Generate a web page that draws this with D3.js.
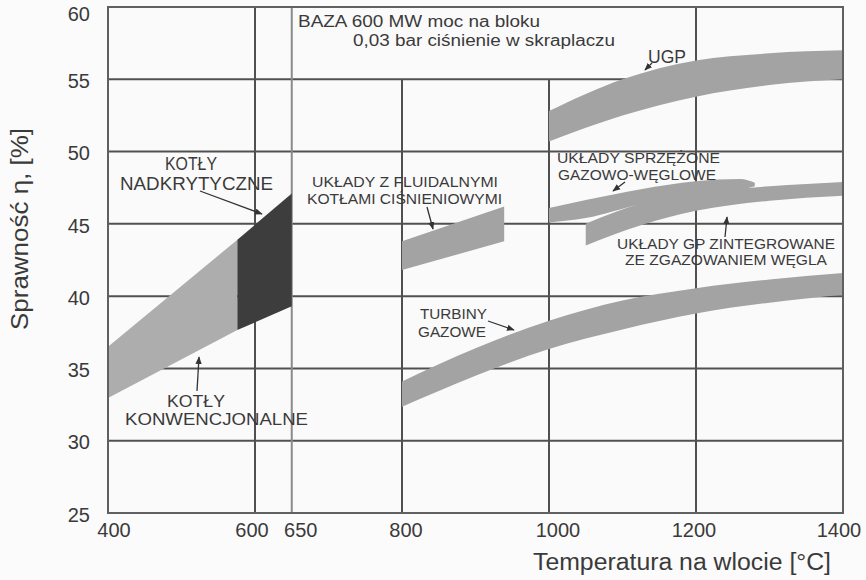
<!DOCTYPE html>
<html><head><meta charset="utf-8">
<script src="https://cdn.jsdelivr.net/npm/d3@7"></script>
<style>
body{margin:0;background:#fbfbfb;}
text{font-family:"Liberation Sans",Arial,sans-serif;}
</style></head>
<body><svg id="c" width="866" height="580"></svg>
<script>
// ---- data ----
const xTicks = [400, 600, 650, 800, 1000, 1200, 1400];
const yTicks = [25, 30, 35, 40, 45, 50, 55, 60];

const konwT = [400, 576], konwTop = [36.5, 43.9], konwBot = [32.95, 37.65];
const nadkT = [576, 650], nadkTop = [43.9, 47.1], nadkBot = [37.65, 39.3];
const fluidT = [800, 939], fluidTop = [43.8, 46.2], fluidBot = [41.8, 43.8];
const ugpT = [1000, 1100, 1200, 1300, 1400], ugpTop = [52.8, 55.0, 56.3, 56.8, 57.0], ugpBot = [50.7, 52.5, 53.8, 54.6, 55.0];
const sprzT = [1000, 1050, 1125, 1200, 1260, 1280], sprzTop = [46.1, 46.65, 47.4, 47.95, 48.1, 47.85], sprzBot = [45.1, 45.4, 46.35, 46.95, 47.35, 47.6];
const zgazT = [1050, 1125, 1200, 1300, 1400], zgazTop = [45.0, 46.4, 47.1, 47.6, 47.9], zgazBot = [43.5, 44.9, 45.9, 46.6, 46.95];
const turbT = [800, 900, 1000, 1100, 1200, 1300, 1400], turbTop = [34.1, 36.4, 38.3, 39.7, 40.55, 41.15, 41.6], turbBot = [32.35, 34.5, 36.35, 37.7, 38.8, 39.55, 40.1];

const baseNote = ["BAZA  600 MW moc na bloku", "0,03 bar ciśnienie w skraplaczu"];
const lblNadk = ["KOTŁY", "NADKRYTYCZNE"];
const lblKonw = ["KOTŁY", "KONWENCJONALNE"];
const lblFluid = ["UKŁADY Z FLUIDALNYMI", "KOTŁAMI CIŚNIENIOWYMI"];
const lblSprz = ["UKŁADY SPRZĘŻONE", "GAZOWO-WĘGLOWE"];
const lblZgaz = ["UKŁADY GP ZINTEGROWANE", "ZE ZGAZOWANIEM WĘGLA"];
const lblUgp = ["UGP"];
const lblTurb = ["TURBINY", "GAZOWE"];
const xTitle = "Temperatura na wlocie [°C]";
const yTitle = "Sprawność η, [%]";

// ---- drawing ----
const svg = d3.select("#c");
const x = d3.scaleLinear().domain([400, 1400]).range([108, 843]);
const y = d3.scaleLinear().domain([25, 60]).range([513, 7]);
const TXT = "#3a3a3a";

svg.append("defs").append("marker").attr("id", "ah").attr("viewBox", "0 0 10 10")
  .attr("refX", 9).attr("refY", 5).attr("markerWidth", 6).attr("markerHeight", 6)
  .attr("orient", "auto").append("path").attr("d", "M0,1L10,5L0,9z").attr("fill", "#333");

svg.append("rect").attr("x", x(400)).attr("y", y(60)).attr("width", x(1400) - x(400))
  .attr("height", y(25) - y(60)).attr("fill", "#fafafa");

const grid = svg.append("g");
grid.selectAll("line.h").data(yTicks.slice(1, -1)).join("line")
  .attr("x1", x(400)).attr("x2", x(1400)).attr("y1", d => y(d)).attr("y2", d => y(d))
  .attr("stroke", "#505050").attr("stroke-width", 2);
grid.selectAll("line.v").data(xTicks.slice(1, -1)).join("line")
  .attr("x1", d => x(d)).attr("x2", d => x(d))
  .attr("y1", d => (d === 800 || d === 1000) ? y(55) : y(60)).attr("y2", y(25))
  .attr("stroke", d => d === 650 ? "#8a8a8a" : "#505050").attr("stroke-width", 2);

function band(T, top, bot, fill, curve) {
  const pts = T.map((t, i) => ({t, a: top[i], b: bot[i]}));
  const area = d3.area().x(d => x(d.t)).y0(d => y(d.b)).y1(d => y(d.a)).curve(curve || d3.curveLinear);
  svg.append("path").datum(pts).attr("d", area).attr("fill", fill);
}
band(konwT, konwTop, konwBot, "#adadad");
band(nadkT, nadkTop, nadkBot, "#3d3d3d");
band(fluidT, fluidTop, fluidBot, "#a3a3a3");
band(ugpT, ugpTop, ugpBot, "#a3a3a3", d3.curveMonotoneX);
band(sprzT, sprzTop, sprzBot, "#a3a3a3", d3.curveMonotoneX);
band(zgazT, zgazTop, zgazBot, "#a3a3a3", d3.curveMonotoneX);
band(turbT, turbTop, turbBot, "#a3a3a3", d3.curveMonotoneX);

svg.append("rect").attr("x", x(400)).attr("y", y(60)).attr("width", x(1400) - x(400))
  .attr("height", y(25) - y(60)).attr("fill", "none").attr("stroke", "#606060").attr("stroke-width", 2);

// tick labels
const xOff = {400: 6, 600: -3, 650: 9, 800: 4, 1000: 9, 1200: -2, 1400: -4};
svg.selectAll("text.xt").data(xTicks).join("text")
  .attr("x", d => x(d) + xOff[d]).attr("y", 536.5).attr("text-anchor", "middle")
  .attr("font-size", 20).attr("fill", TXT).text(d => d);
svg.selectAll("text.yt").data(yTicks).join("text")
  .attr("x", 90).attr("y", d => Math.max(y(d), 12) + 8.7).attr("text-anchor", "end")
  .attr("font-size", 20).attr("fill", TXT).text(d => d);

svg.append("text").attr("x", 682).attr("y", 570).attr("text-anchor", "middle")
  .attr("font-size", 23).attr("textLength", 298).attr("lengthAdjust", "spacingAndGlyphs")
  .attr("fill", TXT).text(xTitle);
svg.append("text").attr("transform", "translate(28,229) rotate(-90)").attr("text-anchor", "middle")
  .attr("font-size", 23).attr("textLength", 202).attr("lengthAdjust", "spacingAndGlyphs")
  .attr("fill", TXT).text(yTitle);

// text line helper: [left x, baseline, width]
function line(s, x0, base, w, size) {
  svg.append("text").attr("x", x0).attr("y", base).attr("font-size", size)
    .attr("textLength", w).attr("lengthAdjust", "spacingAndGlyphs").attr("fill", TXT).text(s);
}
function arrow(x1, y1, x2, y2) {
  svg.append("line").attr("x1", x1).attr("y1", y1).attr("x2", x2).attr("y2", y2)
    .attr("stroke", "#333").attr("stroke-width", 1.3).attr("marker-end", "url(#ah)");
}
line(baseNote[0], 298, 26.7, 242, 16);
line(baseNote[1], 353, 46, 262, 16);

line(lblNadk[0], 165, 169.5, 52, 17.5);
line(lblNadk[1], 120, 189.5, 153, 17.5);
arrow(200, 191, 262, 214);

line(lblKonw[0], 167, 406.5, 58, 16.5);
line(lblKonw[1], 125, 424.5, 183, 16.5);
arrow(197, 391, 199, 357);

line(lblFluid[0], 312, 186.7, 186, 14.5);
line(lblFluid[1], 307, 204, 195, 14.5);
arrow(427, 207, 433, 229);

line(lblSprz[0], 557, 163.3, 163, 15);
line(lblSprz[1], 558, 180, 158, 15);
arrow(625, 182, 613, 191);

line(lblZgaz[0], 617, 249.3, 218, 15);
line(lblZgaz[1], 625, 265, 202, 15);
arrow(725, 237, 727, 217);

line(lblUgp[0], 648, 62.7, 38, 17.5);
arrow(652, 63, 645, 70);

line(lblTurb[0], 420, 319.3, 67, 15);
line(lblTurb[1], 418, 337.3, 68, 15);
arrow(488, 321, 514, 330);
</script></body></html>
